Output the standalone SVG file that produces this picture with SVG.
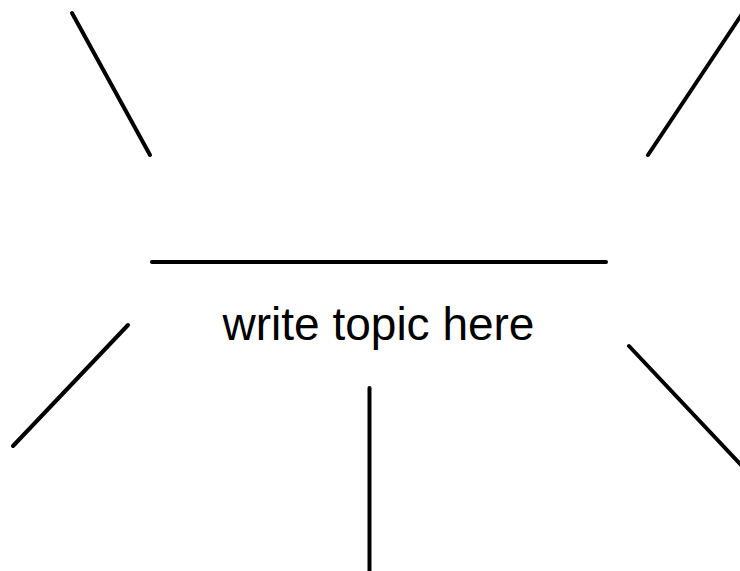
<svg xmlns="http://www.w3.org/2000/svg" width="740" height="571" viewBox="0 0 740 571">
<style>
.c{stroke:#000;stroke-width:4;stroke-linecap:round;fill:none}
.t{font-family:"Liberation Sans",Arial,sans-serif;font-size:46px;fill:#000}
</style>
<rect width="740" height="571" fill="#fff"/>
<g id="connectors">
<line class="c" x1="72" y1="13" x2="150" y2="155"/>
<line class="c" x1="742" y1="14" x2="648" y2="155"/>
<line class="c" x1="128" y1="325" x2="13" y2="446"/>
<line class="c" x1="629" y1="346" x2="742" y2="466"/>
<line class="c" x1="369.5" y1="388" x2="369.5" y2="575"/>
</g>
<g id="topic">
<line class="c" x1="152" y1="262" x2="606" y2="262"/>
<text class="t" x="378.5" y="340" text-anchor="middle">write topic here</text>
</g>
</svg>
